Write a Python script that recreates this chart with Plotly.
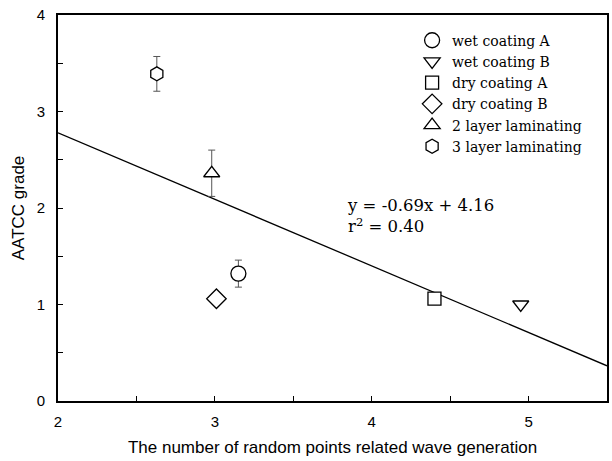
import numpy as np
import plotly.graph_objects as go

# ---- data ----
series_names = ["wet coating A", "wet coating B", "dry coating A",
                "dry coating B", "2 layer laminating", "3 layer laminating"]
x_values = [3.15, 4.95, 4.40, 3.01, 2.98, 2.63]
y_values = [1.32, 1.00, 1.06, 1.06, 2.36, 3.39]
y_errors = [0.14, None, None, None, 0.24, 0.18]
symbols = ["circle", "triangle-down", "square",
           "diamond", "triangle-up", "hexagon"]
marker_sizes = [15, 14, 13, 15, 14, 14]

fit_slope = -0.69
fit_intercept = 4.16
fit_r2 = 0.40
x_range = [2, 5.5]
y_range = [0, 4]
x_ticks = [2, 3, 4, 5]
y_ticks = [0, 1, 2, 3, 4]

fig = go.Figure()

# regression line
fx = np.array(x_range)
fig.add_trace(go.Scatter(x=fx, y=fit_slope * fx + fit_intercept, mode="lines",
                         line=dict(color="black", width=1.3),
                         showlegend=False, hoverinfo="skip"))

for name, xv, yv, err, sym, sz in zip(series_names, x_values, y_values,
                                      y_errors, symbols, marker_sizes):
    tr = dict(x=[xv], y=[yv], mode="markers", name=name,
              marker=dict(symbol=sym, size=sz, color="white",
                          line=dict(color="black", width=1.3)))
    if err is not None:
        tr["error_y"] = dict(type="data", array=[err], visible=True,
                             color="#555", thickness=1, width=3.5)
    fig.add_trace(go.Scatter(**tr))

fig.add_annotation(x=3.83, y=1.92, xref="x", yref="y", xanchor="left", yanchor="middle",
                   text=f"y = {fit_slope}x + {fit_intercept}<br>r<sup>2</sup> = {fit_r2:.2f}",
                   showarrow=False, align="left",
                   font=dict(family="DejaVu Serif", size=16.5, color="black"))

axis_common = dict(showline=True, linecolor="black", linewidth=2, mirror=True,
                   ticks="inside", ticklen=5, tickwidth=1, tickcolor="black",
                   showgrid=False, zeroline=False,
                   tickfont=dict(family="Liberation Sans", size=15, color="black"))

fig.update_xaxes(range=x_range, tickvals=x_ticks, ticklabelstandoff=6,
                 minor=dict(ticks="inside", ticklen=5, dtick=0.5, tickcolor="black", showgrid=False),
                 title=dict(text="The number of random points related wave generation",
                            font=dict(family="Liberation Sans", size=17, color="black"),
                            standoff=12),
                 **axis_common)
fig.update_yaxes(range=y_range, tickvals=y_ticks, ticklabelstandoff=8,
                 minor=dict(ticks="inside", ticklen=5, dtick=0.5, tickcolor="black", showgrid=False),
                 title=dict(text="AATCC grade",
                            font=dict(family="Liberation Sans", size=17, color="black"),
                            standoff=8),
                 **axis_common)

fig.update_layout(
    width=612, height=461,
    margin=dict(l=58, r=3, t=15, b=60),
    plot_bgcolor="white", paper_bgcolor="white",
    legend=dict(x=0.645, y=0.975, xanchor="left", yanchor="top",
                bgcolor="rgba(0,0,0,0)", borderwidth=0,
                font=dict(family="DejaVu Serif", size=14, color="black"),
                tracegroupgap=0, itemwidth=30),
)

fig.write_html("out.html")
